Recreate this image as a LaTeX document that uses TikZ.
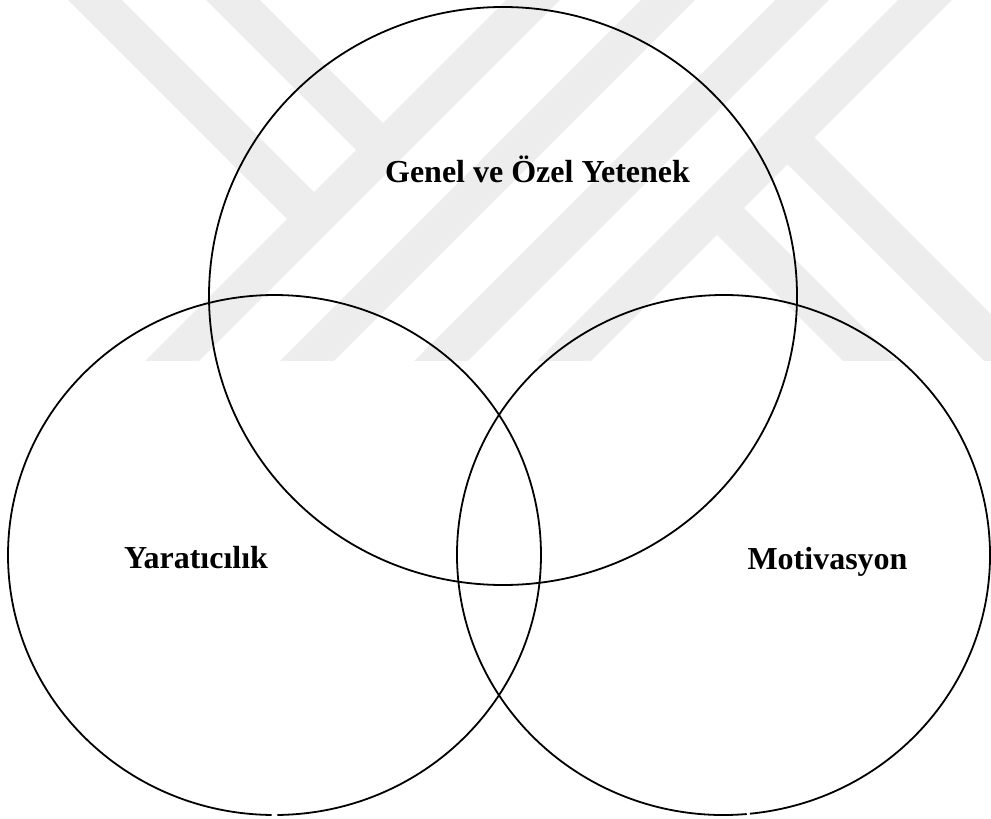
\documentclass[tikz,border=0pt]{standalone}
\usepackage{fontspec}
\setmainfont{Liberation Serif}
\begin{document}
\begin{tikzpicture}[x=1pt,y=-1pt,
  wm/.style={line width=38pt, draw=black!7, line cap=butt},
  ring/.style={line width=1.8pt, draw=black},
  lbl/.style={font=\fontsize{32}{38}\selectfont\bfseries, anchor=base, inner sep=0pt}]
\useasboundingbox (0,0) rectangle (991,819);
\fill[white] (0,0) rectangle (991,819);
% faint watermark
\begin{scope}
\clip (0,0) rectangle (991,360);
\draw[wm] (55,-40) -- (314,219);
\draw[wm] (193,-40) -- (383,150);
\draw[wm] (573,-40) -- (113,420);
\draw[wm] (708,-40) -- (248,420);
\draw[wm] (842,-40) -- (382,420);
\draw[wm] (965,-40) -- (505,420);
\draw[wm] (717,208) -- (937,428);
\draw[wm] (787.5,137.5) -- (1077.5,427.5);
\end{scope}
% circles
\draw[ring] (503,296) ellipse [x radius=294, y radius=289];
\draw[ring] (274.5,555) ++(90.6:266.5 and 260) arc[start angle=90.6, end angle=449.4, x radius=266.5, y radius=260];
\draw[ring] (723.5,555) ++(85.0:266.5 and 260) arc[start angle=85.0, end angle=444.3, x radius=266.5, y radius=260];
% labels
\node[lbl] (gen) at (537.5,182) {Genel ve Özel Yetenek};
\node[lbl] (yar) at (196,568) {Yaratıcılık};
\node[lbl] (mot) at (827.5,569) {Motivasyon};
\end{tikzpicture}
\end{document}
